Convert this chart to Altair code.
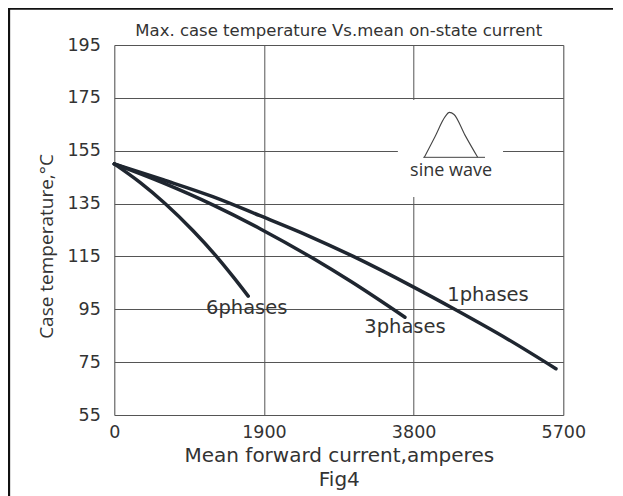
import altair as alt
import pandas as pd

# ---- data ----
x_ticks = [0, 1900, 3800, 5700]
y_ticks = [55, 75, 95, 115, 135, 155, 175, 195]

one_x = [0, 620, 1250, 1850, 2450, 3034, 3800, 4304, 5000, 5607]
one_y = [150, 144, 137.6, 130.4, 123, 115, 103.4, 95.3, 83.6, 72.5]
three_x = [0, 620, 1250, 1850, 2527, 3000, 3690]
three_y = [150, 142.8, 134.5, 125.5, 114.2, 105.6, 92]
six_x = [0, 330, 644, 1000, 1320, 1520, 1700]
six_y = [150, 142.9, 135, 124.7, 114.2, 106.9, 100]

label_text = ["6phases", "3phases", "1phases"]
label_x = [1681, 3690, 4744]
label_y = [95.4, 88.2, 100.3]

chart_title = "Max. case temperature Vs.mean on-state current"

# sine-wave inset
inset_x = [3600]
inset_x2 = [4935]
inset_y = [137.5]
inset_y2 = [174.2]
sine_x = [3936, 4071, 4198, 4253, 4313, 4452, 4613]
sine_y = [152.5, 160.3, 167.8, 169.5, 168.7, 160.9, 152.5]
base_x = [3922, 4706]
base_y = [152.5, 152.5]
inset_label = ["sine wave"]
inset_label_x = [4275]
inset_label_y = [147.3]

rows = []
for name, xs, ys in [("1phases", one_x, one_y), ("3phases", three_x, three_y), ("6phases", six_x, six_y)]:
    for a, b in zip(xs, ys):
        rows.append({"series": name, "x": a, "y": b})
lines_df = pd.DataFrame(rows)
labels_df = pd.DataFrame({"text": label_text, "x": label_x, "y": label_y})
inset_df = pd.DataFrame({"x": inset_x, "x2": inset_x2, "y": inset_y, "y2": inset_y2})
sine_df = pd.DataFrame({"x": sine_x, "y": sine_y})
base_df = pd.DataFrame({"x": base_x, "y": base_y})
inset_lab_df = pd.DataFrame({"text": inset_label, "x": inset_label_x, "y": inset_label_y})
one_row = pd.DataFrame({"k": [0]})

TXT = "#333333"
LINE = "#1f2630"

xscale = alt.Scale(domain=[0, 5700], nice=False, zero=False)
yscale = alt.Scale(domain=[55, 195], nice=False, zero=False)

x_axis = alt.Axis(
    values=x_ticks, format="d", grid=True, ticks=False, tickSize=0, domain=False,
    labelFlush=False, labelFont="DejaVu Sans", labelFontSize=17.5, labelColor=TXT,
    labelBaseline="alphabetic", labelPadding=22,
    title=["Mean forward current,amperes", "Fig4"],
    titleFont="DejaVu Sans", titleFontSize=20, titleFontWeight="normal", titleColor=TXT,
    titleBaseline="alphabetic", titleY=46, titleLineHeight=24,
    gridColor="#555555", gridWidth=1,
)
y_axis = alt.Axis(
    values=y_ticks, format="d", grid=True, ticks=False, tickSize=0, domain=False,
    labelFont="DejaVu Sans", labelFontSize=17.5, labelColor=TXT,
    labelBaseline="middle", labelPadding=14,
    title="Case temperature,°C",
    titleFont="Open Sans", titleFontSize=19, titleFontWeight="normal", titleColor=TXT,
    titleX=-68, titleY=201, titleBaseline="middle",
    gridColor="#555555", gridWidth=1,
)

# outer figure frame (top and left edges) as thin filled bars, inside the SVG
frame_top = alt.Chart(one_row).mark_rect(fill="#111111", strokeWidth=0).encode(
    x=alt.value(-106.45), x2=alt.value(498.7), y=alt.value(-37.45), y2=alt.value(-35.15)
)
frame_left = alt.Chart(one_row).mark_rect(fill="#111111", strokeWidth=0).encode(
    x=alt.value(-106.45), x2=alt.value(-104.15), y=alt.value(-37.45), y2=alt.value(451)
)
# white strip along the right edge of the drawing, below the top frame bar
right_cover = alt.Chart(one_row).mark_rect(fill="white", strokeWidth=0).encode(
    x=alt.value(493), x2=alt.value(505), y=alt.value(-34.9), y2=alt.value(460)
)

title_text = alt.Chart(one_row).mark_text(
    font="DejaVu Sans", fontSize=16.5, color=TXT, align="center", baseline="alphabetic"
).encode(x=alt.value(224.5), y=alt.value(-9), text=alt.value(chart_title))

inset = alt.Chart(inset_df).mark_rect(fill="white").encode(
    x=alt.X("x:Q", scale=xscale, axis=x_axis),
    x2="x2:Q",
    y=alt.Y("y:Q", scale=yscale, axis=y_axis),
    y2="y2:Q",
)

sine = alt.Chart(sine_df).mark_line(
    color="#444444", strokeWidth=1.1, interpolate="monotone"
).encode(x=alt.X("x:Q", scale=xscale), y=alt.Y("y:Q", scale=yscale))

base = alt.Chart(base_df).mark_line(color="#444444", strokeWidth=1).encode(
    x=alt.X("x:Q", scale=xscale), y=alt.Y("y:Q", scale=yscale)
)

inset_text = alt.Chart(inset_lab_df).mark_text(
    font="Open Sans", fontSize=18, color=TXT, align="center", baseline="middle"
).encode(x=alt.X("x:Q", scale=xscale), y=alt.Y("y:Q", scale=yscale), text="text:N")

lines = alt.Chart(lines_df).mark_line(
    color=LINE, strokeWidth=3.5, interpolate="monotone", strokeCap="round"
).encode(
    x=alt.X("x:Q", scale=xscale),
    y=alt.Y("y:Q", scale=yscale),
    detail="series:N",
)

labels = alt.Chart(labels_df).mark_text(
    font="DejaVu Sans", fontSize=19.5, color=TXT, align="center", baseline="middle"
).encode(x=alt.X("x:Q", scale=xscale), y=alt.Y("y:Q", scale=yscale), text="text:N")

chart = alt.layer(
    inset, sine, base, inset_text, lines, labels, title_text, frame_top, frame_left, right_cover
).properties(
    width=449,
    height=370,
    padding={"left": 106.3, "top": 37, "right": 49.7, "bottom": 81},
    autosize=alt.AutoSizeParams(type="none"),
).configure_view(
    stroke="#666666", strokeWidth=1
).configure(background="white")

chart.save("out.html", embed_options={"renderer": "svg", "actions": False})
